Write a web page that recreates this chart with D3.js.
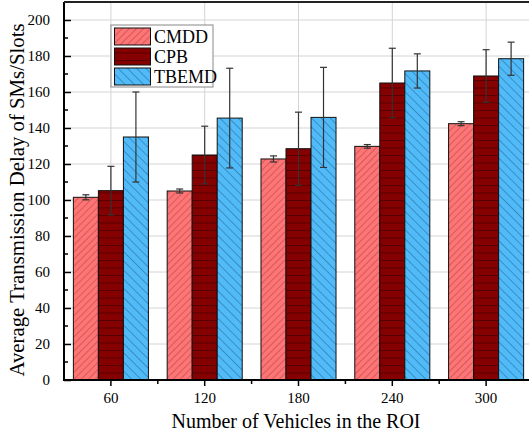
<!DOCTYPE html>
<html>
<head>
<meta charset="utf-8">
<script src="https://cdn.jsdelivr.net/npm/d3@7"></script>
<style>
  body { margin: 0; background: #fff; }
  text { font-family: "Liberation Serif", "Times New Roman", serif; }
</style>
</head>
<body>
<script>
let width = 529;
let height = 444;

// Data
let categories = ["60", "120", "180", "240", "300"];
let series = ["CMDD", "CPB", "TBEMD"];
let cmdd = [101.5, 105, 122.8, 129.8, 142.4];
let cmddErr = [1.4, 1.1, 1.7, 1.0, 1.1];
let cpb = [105.2, 125, 128.5, 165, 168.9];
let cpbErr = [13.5, 16, 20.3, 19.3, 14.6];
let tbemd = [135, 145.5, 145.9, 171.7, 178.5];
let tbemdErr = [25, 27.7, 27.8, 9.5, 9.2];
let yTicks = [0, 20, 40, 60, 80, 100, 120, 140, 160, 180, 200];

let values = [cmdd, cpb, tbemd];
let errors = [cmddErr, cpbErr, tbemdErr];

let mLeft = 64, mRight = 533, mTop = 2, mBottom = 380;

let svg = d3.select("body").append("svg")
            .attr("width", width)
            .attr("height", height);

// hatch patterns
let defs = svg.append("defs");

let p1 = defs.append("pattern").attr("id", "hatchCMDD")
             .attr("patternUnits", "userSpaceOnUse")
             .attr("width", 5).attr("height", 5)
             .attr("patternTransform", "rotate(45)");
p1.append("rect").attr("width", 5).attr("height", 5).attr("fill", "#ff7474");
p1.append("line").attr("x1", 0).attr("y1", 0).attr("x2", 0).attr("y2", 5)
  .attr("stroke", "#8a3a3a").attr("stroke-width", 0.8);

let p2 = defs.append("pattern").attr("id", "hatchCPB")
             .attr("patternUnits", "userSpaceOnUse")
             .attr("width", 10).attr("height", 7.5)
             .attr("y", mBottom);
p2.append("rect").attr("width", 10).attr("height", 7.5).attr("fill", "#850000");
p2.append("line").attr("x1", 0).attr("y1", 0).attr("x2", 10).attr("y2", 0)
  .attr("stroke", "#2a0000").attr("stroke-width", 1);

let p3 = defs.append("pattern").attr("id", "hatchTBEMD")
             .attr("patternUnits", "userSpaceOnUse")
             .attr("width", 6.5).attr("height", 6.5)
             .attr("patternTransform", "rotate(-45)");
p3.append("rect").attr("width", 6.5).attr("height", 6.5).attr("fill", "#50bbf8");
p3.append("line").attr("x1", 0).attr("y1", 0).attr("x2", 0).attr("y2", 6.5)
  .attr("stroke", "#1d4d70").attr("stroke-width", 0.8);

let fills = ["url(#hatchCMDD)", "url(#hatchCPB)", "url(#hatchTBEMD)"];

let x = d3.scaleBand().domain(categories).range([mLeft, mRight]).paddingInner(0.2).paddingOuter(0.1);
let xs = d3.scaleBand().domain(series).range([0, x.bandwidth()]);
let y = d3.scaleLinear().domain([0, 210]).range([mBottom, mTop]);

// grid
svg.append("g").selectAll("line").data(yTicks.slice(1)).join("line")
   .attr("x1", mLeft).attr("x2", mRight)
   .attr("y1", d => y(d)).attr("y2", d => y(d))
   .attr("stroke", "#d4d4d4").attr("stroke-width", 1);
svg.append("g").selectAll("line").data(categories).join("line")
   .attr("x1", d => x(d) + x.bandwidth() / 2).attr("x2", d => x(d) + x.bandwidth() / 2)
   .attr("y1", mTop).attr("y2", mBottom)
   .attr("stroke", "#d4d4d4").attr("stroke-width", 1);

// bars
series.forEach((s, si) => {
  svg.append("g").selectAll("rect").data(categories).join("rect")
     .attr("x", d => x(d) + xs(s))
     .attr("y", (d, i) => y(values[si][i]))
     .attr("width", xs.bandwidth())
     .attr("height", (d, i) => mBottom - y(values[si][i]))
     .attr("fill", fills[si])
     .attr("stroke", "#111")
     .attr("stroke-width", 1);
});

// error bars
series.forEach((s, si) => {
  let g = svg.append("g").attr("stroke", "#333").attr("stroke-width", 1.2);
  categories.forEach((c, i) => {
    let cx = x(c) + xs(s) + xs.bandwidth() / 2;
    let hi = y(values[si][i] + errors[si][i]);
    let lo = y(values[si][i] - errors[si][i]);
    g.append("line").attr("x1", cx).attr("x2", cx).attr("y1", hi).attr("y2", lo);
    g.append("line").attr("x1", cx - 3.5).attr("x2", cx + 3.5).attr("y1", hi).attr("y2", hi);
    g.append("line").attr("x1", cx - 3.5).attr("x2", cx + 3.5).attr("y1", lo).attr("y2", lo);
  });
});

// y axis (ticks inward)
let yAxis = svg.append("g").attr("transform", `translate(${mLeft},0)`)
               .call(d3.axisLeft(y).tickValues(yTicks).tickSize(-7).tickPadding(14));
yAxis.select(".domain").remove();
yAxis.selectAll(".tick line").attr("stroke", "#000").attr("stroke-width", 1.5);
yAxis.selectAll("text").attr("font-size", 15).attr("fill", "#000")
     .attr("font-family", "Liberation Serif");
let minorY = d3.range(10, 210, 20);
svg.append("g").selectAll("line").data(minorY).join("line")
   .attr("x1", mLeft).attr("x2", mLeft + 4)
   .attr("y1", d => y(d)).attr("y2", d => y(d))
   .attr("stroke", "#000").attr("stroke-width", 1.5);

// x axis
let xAxis = svg.append("g").attr("transform", `translate(0,${mBottom})`)
               .call(d3.axisBottom(x).tickSize(6).tickPadding(6));
xAxis.select(".domain").remove();
xAxis.selectAll(".tick line").attr("stroke", "#000").attr("stroke-width", 1.5);
xAxis.selectAll("text").attr("font-size", 15).attr("fill", "#000")
     .attr("font-family", "Liberation Serif");
let minorX = categories.slice(1).map(c => x(c) - x.step() * x.paddingInner() / 2);
svg.append("g").selectAll("line").data(minorX).join("line")
   .attr("x1", d => d).attr("x2", d => d)
   .attr("y1", mBottom).attr("y2", mBottom + 4)
   .attr("stroke", "#000").attr("stroke-width", 1.5);

// frame
svg.append("line").attr("x1", mLeft).attr("x2", mRight).attr("y1", mBottom).attr("y2", mBottom)
   .attr("stroke", "#000").attr("stroke-width", 2);
svg.append("line").attr("x1", mLeft).attr("x2", mLeft).attr("y1", mTop).attr("y2", mBottom + 1)
   .attr("stroke", "#000").attr("stroke-width", 2);
svg.append("line").attr("x1", mLeft).attr("x2", mRight).attr("y1", mTop).attr("y2", mTop)
   .attr("stroke", "#222").attr("stroke-width", 2);

// axis titles
svg.append("text").attr("x", 296).attr("y", 428)
   .attr("text-anchor", "middle").attr("font-size", 20)
   .text("Number of Vehicles in the ROI");
svg.append("text").attr("transform", "translate(24,200) rotate(-90)")
   .attr("text-anchor", "middle").attr("font-size", 20.8)
   .text("Average Transmission Delay of SMs/Slots");

// legend
let legend = svg.append("g").attr("transform", "translate(111,25)");
legend.append("rect").attr("width", 102).attr("height", 62)
      .attr("fill", "#fff").attr("stroke", "#888").attr("stroke-width", 1);
series.forEach((s, si) => {
  legend.append("rect").attr("x", 3.5).attr("y", 3 + si * 20)
        .attr("width", 36).attr("height", 17)
        .attr("fill", fills[si]).attr("stroke", "#111").attr("stroke-width", 1);
  legend.append("text").attr("x", 43).attr("y", 17.5 + si * 20)
        .attr("font-size", 18).text(s);
});
</script>
</body>
</html>
